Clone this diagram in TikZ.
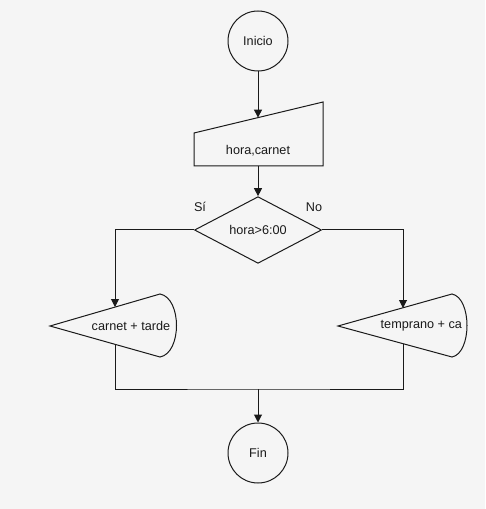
\documentclass[tikz,border=0pt]{standalone}
\usepackage{fontspec}
\setmainfont{Liberation Sans}
\usepackage{xcolor}
\usepackage{tikz}
\usetikzlibrary{arrows.meta,shapes.geometric}
\definecolor{fondo}{HTML}{F5F5F5}
\definecolor{trazo}{HTML}{1A1A1A}
\tikzset{
  linea/.style={draw=trazo, line width=0.75pt},
  flecha/.style={linea, -{Triangle[length=6pt,width=6pt]}},
  terminal/.style={linea, circle, minimum size=45pt, inner sep=0pt},
  decision/.style={linea, diamond, minimum width=95.25pt, minimum height=48pt, inner sep=0pt}
}

\begin{document}
\begin{tikzpicture}[x=0.75pt, y=-0.75pt, font=\fontsize{9.5}{11}\selectfont, text=trazo]
  \fill[fondo] (0,0) rectangle (485,509);
  \useasboundingbox (0,0) rectangle (485,509);
  \node[terminal] (inicio) at (258,41) {Inicio};
  % entrada manual
  \draw[linea] (194,133) -- (323,102) -- (323,166) -- (194,166) -- cycle;
  \node (entrada) at (258,151) {hora,carnet};
  \coordinate (entrada-top) at (258,117.6);
  \coordinate (entrada-bot) at (258,166);
  \node[decision] (cond) at (258,230) {hora>6:00};
  \node (si) at (200,207) {Sí};
  \node (no) at (314,207) {No};
  % pantallas
  \draw[linea] (50,326) -- (160,294) .. controls (182,298) and (182,353) .. (160,357) -- cycle;
  \node (tarde) at (131,326) {carnet + tarde};
  \coordinate (tarde-top) at (115,307);
  \coordinate (tarde-bot) at (115,344);
  \draw[linea] (338,326) -- (452,294) .. controls (472,298) and (472,353) .. (452,357) -- cycle;
  \begin{scope}
    \clip (338,300) rectangle (462,352);
    \node[anchor=west] (temprano) at (376,326) {temprano + ca};
  \end{scope}
  \coordinate (temprano-top) at (403,308);
  \coordinate (temprano-bot) at (403,344);
  \coordinate (union) at (258,389);
  \node[terminal] (fin) at (258,453) {Fin};
  % conectores
  \draw[flecha] (inicio) -- (entrada-top);
  \draw[flecha] (entrada-bot) -- (cond.north);
  \draw[flecha] (cond.west) -| (tarde-top);
  \draw[flecha] (cond.east) -| (temprano-top);
  \draw[linea] (tarde-bot) |- (union) -| (temprano-bot);
  \draw[flecha] (union) -- (fin);
\end{tikzpicture}
\end{document}
